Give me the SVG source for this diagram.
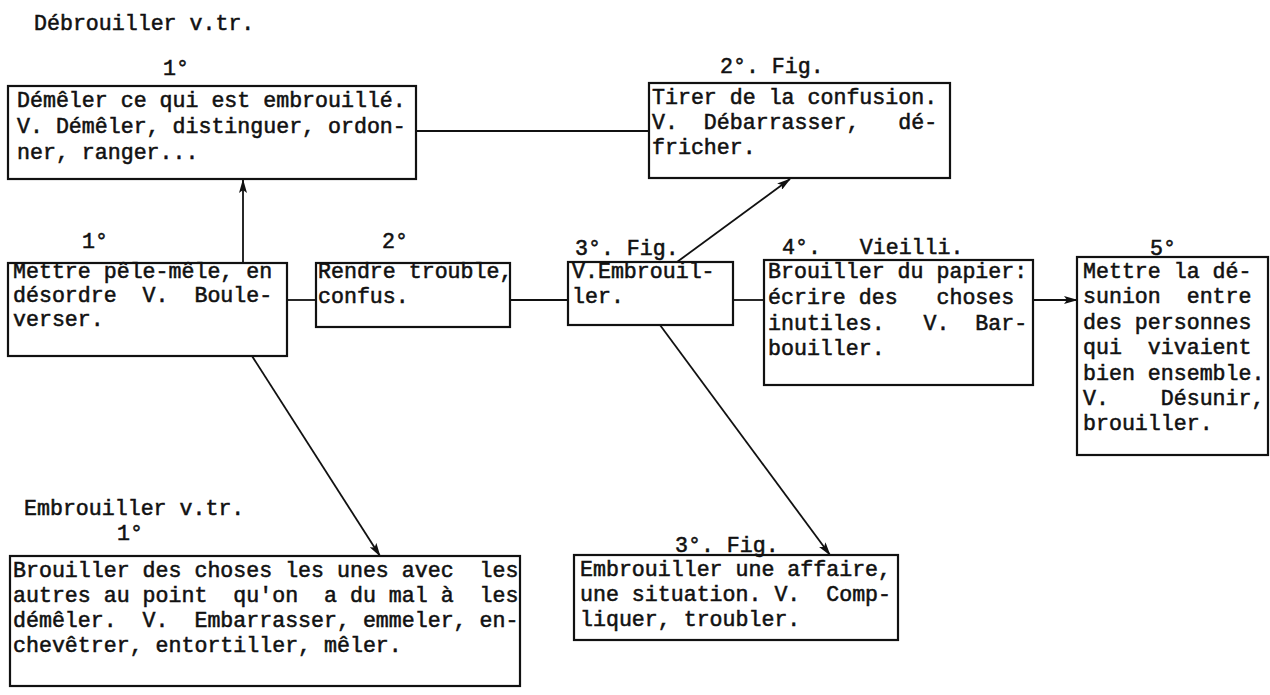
<svg xmlns="http://www.w3.org/2000/svg" width="1270" height="695" viewBox="0 0 1270 695">
<style>
text{font-family:"Liberation Mono","Courier New",monospace;font-size:21.6px;font-weight:normal;fill:#111;stroke:#111;stroke-width:0.55;white-space:pre}
.box{fill:none;stroke:#111;stroke-width:2.2}
.con{stroke:#111;stroke-width:1.8;fill:none}
.arr{marker-end:url(#ah)}
</style>
<defs>
<marker id="ah" viewBox="0 0 14 8" refX="13" refY="4" markerWidth="14" markerHeight="8" markerUnits="userSpaceOnUse" orient="auto">
<path d="M0,0 L14,4 L0,8 L3,4 z" fill="#111"/>
</marker>
</defs>
<g id="connectors">
<line class="con" x1="416" y1="131" x2="649" y2="131"/>
<line class="con arr" x1="243" y1="262" x2="243" y2="180"/>
<line class="con" x1="287" y1="300" x2="316" y2="300"/>
<line class="con" x1="510" y1="300" x2="568" y2="300"/>
<line class="con" x1="733" y1="300" x2="764" y2="300"/>
<line class="con arr" x1="1033" y1="300" x2="1077" y2="300"/>
<line class="con arr" x1="677" y1="262" x2="790" y2="179"/>
<line class="con arr" x1="660" y1="325" x2="830" y2="555"/>
<line class="con arr" x1="252" y1="356" x2="380" y2="556"/>
</g>
<g id="title1"><text x="34" y="30">Débrouiller v.tr.</text></g>
<g id="n1">
<text x="163" y="75">1°</text>
<rect class="box" x="8" y="86" width="408" height="93"/>
<text x="17" y="107">Démêler ce qui est embrouillé.</text>
<text x="17" y="133">V. Démêler, distinguer, ordon-</text>
<text x="17" y="159">ner, ranger...</text>
</g>
<g id="n2">
<text x="720" y="73">2°. Fig.</text>
<rect class="box" x="649" y="83" width="301" height="95"/>
<text x="652" y="104">Tirer de la confusion.</text>
<text x="652" y="129">V.  Débarrasser,   dé-</text>
<text x="652" y="154">fricher.</text>
</g>
<g id="n3">
<text x="82" y="248">1°</text>
<rect class="box" x="8" y="263" width="279" height="93"/>
<text x="13" y="278">Mettre pêle-mêle, en</text>
<text x="13" y="302">désordre  V.  Boule-</text>
<text x="13" y="326">verser.</text>
</g>
<g id="n4">
<text x="382" y="248">2°</text>
<rect class="box" x="316" y="263" width="194" height="64"/>
<text x="318" y="278">Rendre trouble,</text>
<text x="318" y="303">confus.</text>
</g>
<g id="n5">
<text x="575" y="255">3°. Fig.</text>
<rect class="box" x="568" y="262" width="165" height="63"/>
<text x="572" y="278">V.Embrouil-</text>
<text x="572" y="303">ler.</text>
</g>
<g id="n6">
<text x="782" y="254">4°.   Vieilli.</text>
<rect class="box" x="764" y="260" width="269" height="125"/>
<text x="768" y="278">Brouiller du papier:</text>
<text x="768" y="304">écrire des   choses</text>
<text x="768" y="330">inutiles.   V.  Bar-</text>
<text x="768" y="355">bouiller.</text>
</g>
<g id="n7">
<text x="1150" y="255">5°</text>
<rect class="box" x="1077" y="257" width="191" height="198"/>
<text x="1083" y="278">Mettre la dé-</text>
<text x="1083" y="303">sunion  entre</text>
<text x="1083" y="329">des personnes</text>
<text x="1083" y="354">qui  vivaient</text>
<text x="1083" y="380">bien ensemble.</text>
<text x="1083" y="405">V.    Désunir,</text>
<text x="1083" y="430">brouiller.</text>
</g>
<g id="title2"><text x="24" y="515">Embrouiller v.tr.</text></g>
<g id="n8">
<text x="117" y="540">1°</text>
<rect class="box" x="10" y="556" width="510" height="130"/>
<text x="13" y="577">Brouiller des choses les unes avec  les</text>
<text x="13" y="602">autres au point  qu'on  a du mal à  les</text>
<text x="13" y="627">démêler.  V.  Embarrasser, emmeler, en-</text>
<text x="13" y="652">chevêtrer, entortiller, mêler.</text>
</g>
<g id="n9">
<text x="675" y="552">3°. Fig.</text>
<rect class="box" x="574" y="555" width="324" height="85"/>
<text x="580" y="576">Embrouiller une affaire,</text>
<text x="580" y="601">une situation. V.  Comp-</text>
<text x="580" y="626">liquer, troubler.</text>
</g>
</svg>
